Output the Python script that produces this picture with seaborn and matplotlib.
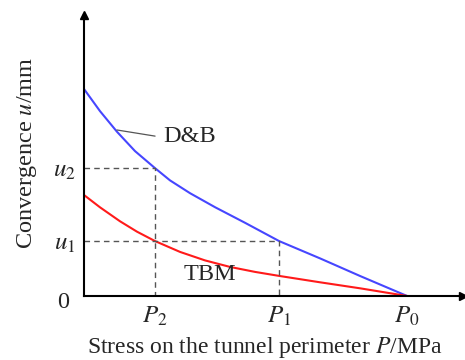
import matplotlib
matplotlib.use("Agg")
import matplotlib.pyplot as plt
import seaborn as sns
import pandas as pd

# Support stress on the tunnel perimeter (P0 = 100) and wall convergence
stress_db = [0, 4.95, 10.22, 15.79, 22.0, 26.63, 32.82, 40.56, 49.85, 60.4, 73.07, 85.45, 100]
conv_db = [64.09, 57.24, 50.84, 44.86, 39.57, 35.79, 31.83, 27.49, 22.66, 17.0, 11.64, 6.19, 0]

stress_tbm = [0, 4.95, 11.15, 16.41, 22.0, 29.72, 37.46, 45.20, 52.94, 60.4, 73.07, 85.45, 100]
conv_tbm = [31.27, 27.46, 23.13, 19.91, 17.0, 13.65, 11.02, 9.00, 7.46, 6.22, 4.24, 2.38, 0]

p_ticks = [22.0, 60.4, 100]
p_labels = ["$P_2$", "$P_1$", "$P_0$"]
u_ticks = [17.0, 39.57]
u_labels = ["$u_1$", "$u_2$"]

df = pd.DataFrame({
    "P": stress_db + stress_tbm,
    "u": conv_db + conv_tbm,
    "method": ["D&B"] * len(stress_db) + ["TBM"] * len(stress_tbm),
})

sns.set_style("white")
plt.rcParams["font.family"] = ["Liberation Serif", "DejaVu Serif"]
plt.rcParams["mathtext.fontset"] = "stix"

fig = plt.figure(figsize=(4.65, 3.6), dpi=100)
ax = fig.add_axes([84 / 465, 64 / 360, 379 / 465, 281 / 360])

sns.lineplot(data=df, x="P", y="u", hue="method",
             palette={"D&B": "#4646ff", "TBM": "#ff1a1a"},
             linewidth=1.5, legend=False, ax=ax, sort=False)
for line in ax.get_lines():
    line.set_solid_joinstyle("round")

# Dashed guides from the tick marks to the curves
dash = dict(color="#555555", lw=1.0, ls=(0, (4, 3)))
ax.plot([0, p_ticks[0], p_ticks[0]], [u_ticks[1], u_ticks[1], 0], **dash)
ax.plot([0, p_ticks[1], p_ticks[1]], [u_ticks[0], u_ticks[0], 0], **dash)

ax.set_xlim(0, 117.3)
ax.set_ylim(0, 87)

for side in ["top", "right"]:
    ax.spines[side].set_visible(False)
for side in ["left", "bottom"]:
    ax.spines[side].set_color("black")
    ax.spines[side].set_linewidth(1.5)

# Arrow heads at the axis ends
ax.plot(1, 0, ">", color="black", ms=6, transform=ax.transAxes, clip_on=False)
ax.plot(0, 1, "^", color="black", ms=6, transform=ax.transAxes, clip_on=False)

ax.set_xticks(p_ticks)
ax.set_xticklabels(p_labels, fontsize=18)
ax.set_yticks(u_ticks)
ax.set_yticklabels(u_labels, fontsize=18)
ax.tick_params(length=0, pad=6)
ax.text(-4.5, -2, "0", fontsize=17.5, ha="right", va="center")

ax.set_xlabel("Stress on the tunnel perimeter $\\mathit{P}$/MPa", fontsize=17)
ax.xaxis.set_label_coords(0.476, -0.183)
ax.xaxis.label.set_va("center")
ax.set_ylabel("Convergence $\\mathit{u}$/mm", fontsize=17.5)
ax.yaxis.set_label_coords(-0.150, 0.51)
ax.yaxis.label.set_va("center")

ax.plot([10.2, 22], [51.4, 49.5], color="#555555", lw=0.9)
ax.text(24.5, 49.5, "D&B", fontsize=17.5, ha="left", va="center")
ax.text(30.7, 6.8, "TBM", fontsize=17.5, ha="left", va="center")

fig.savefig("out.png", dpi=100)
